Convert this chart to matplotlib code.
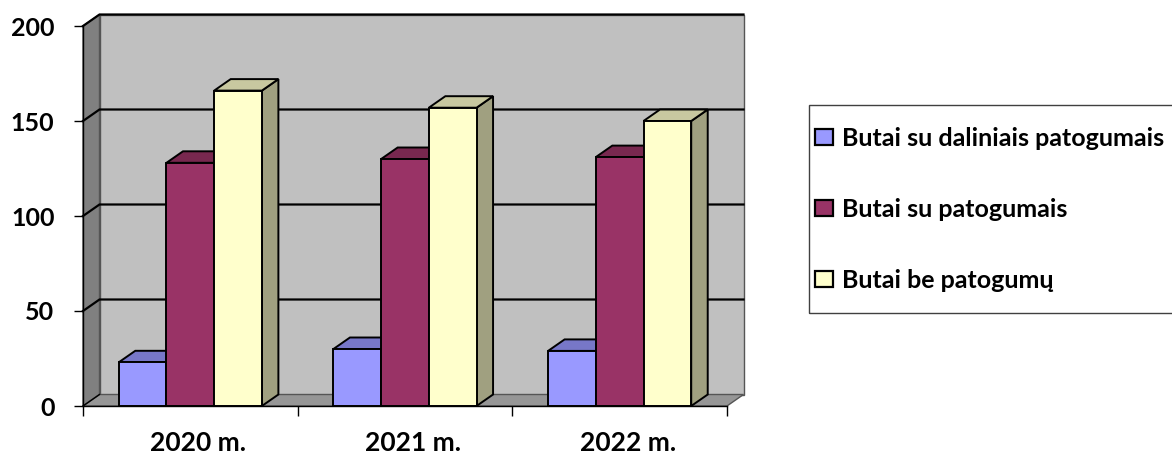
import matplotlib
matplotlib.use("Agg")
import matplotlib.pyplot as plt
from matplotlib.patches import Polygon, Rectangle, Patch
from matplotlib.transforms import ScaledTranslation

# ---- data ----
categories = ["2020 m.", "2021 m.", "2022 m."]
series_names = ["Butai su daliniais patogumais", "Butai su patogumais", "Butai be patogumų"]
s_daliniais = [23, 30, 29]
s_patogumais = [128, 130, 131]
s_be = [166, 157, 150]
y_ticks = [0, 50, 100, 150, 200]

series = [s_daliniais, s_patogumais, s_be]
front_cols = ["#9999FF", "#993366", "#FFFFCC"]
top_cols = ["#7777C8", "#78284F", "#C8C8A0"]
side_cols = ["#6B6BB3", "#6B2447", "#A0A080"]

W, H, DPI = 1172, 453, 100
fig = plt.figure(figsize=(W / DPI, H / DPI), dpi=DPI)
# front plane: x 83..727 px, y 406..26 px (from top)
axl, axr, axt, axb = 83, 727, 26, 406
ax = fig.add_axes([axl / W, 1 - axb / H, (axr - axl) / W, (axb - axt) / H])
ncat = len(categories)
ymax = 200
ax.set_xlim(0, ncat)
ax.set_ylim(0, ymax)
ax.set_facecolor("none")

# depth offset (px) converted into data units
dpx, dpy = 16.5, 11.5
DX = dpx * ncat / (axr - axl)
DY = dpy * ymax / (axb - axt)

def poly(pts, fc, ec="black", lw=1.0, z=1):
    p = Polygon(pts, closed=True, facecolor=fc, edgecolor=ec, linewidth=lw,
                zorder=z, clip_on=False, joinstyle="miter")
    ax.add_patch(p)

# walls and floor
poly([(DX, DY), (ncat + DX, DY), (ncat + DX, ymax + DY), (DX, ymax + DY)], "#C0C0C0", ec="#555555", lw=1.0, z=0.5)
poly([(0, 0), (DX, DY), (DX, ymax + DY), (0, ymax)], "#808080", ec="#555555", lw=1.0, z=0.5)
poly([(0, 0), (ncat, 0), (ncat + DX, DY), (DX, DY)], "#969696", ec="#555555", lw=1.0, z=0.6)

# gridlines on back and side wall
for v in y_ticks[1:]:
    ax.plot([0, DX, ncat + DX], [v, v + DY, v + DY], color="black", lw=1.6,
            zorder=0.8, clip_on=False, solid_joinstyle="miter")
ax.plot([0, DX], [0, DY], color="black", lw=1.0, zorder=0.8, clip_on=False)

# bars
bw = 1 / 4.5
for i in range(ncat):
    for j, s in enumerate(series):
        v = s[i]
        x0 = i + 0.75 * bw + j * bw
        x1 = x0 + bw
        poly([(x1, 0), (x1 + DX, DY), (x1 + DX, v + DY), (x1, v)], side_cols[j], lw=1.4, z=2)
        poly([(x0, v), (x1, v), (x1 + DX, v + DY), (x0 + DX, v + DY)], top_cols[j], lw=1.4, z=2)
        poly([(x0, 0), (x1, 0), (x1, v), (x0, v)], front_cols[j], lw=1.4, z=2)

# axes lines
for sp in ["top", "right"]:
    ax.spines[sp].set_visible(False)
for sp in ["left", "bottom"]:
    ax.spines[sp].set_color("black")
    ax.spines[sp].set_linewidth(1.0)
    ax.spines[sp].set_zorder(3)

font = "Lato"
ax.set_yticks(y_ticks)
ax.set_yticklabels([str(t) for t in y_ticks], fontfamily=font, fontweight="bold", fontsize=18)
ax.tick_params(axis="y", length=6.5, width=1.0, pad=14, direction="out")

ax.set_xticks(range(ncat + 1))
ax.set_xticklabels([])
ax.tick_params(axis="x", which="major", length=7, width=1.0, direction="out")
ax.set_xticks([i + 0.5 for i in range(ncat)], minor=True)
ax.set_xticklabels(categories, minor=True, fontfamily=font, fontweight="bold", fontsize=19)
ax.tick_params(axis="x", which="minor", length=0, pad=18)
for lab in ax.get_xticklabels(minor=True):
    lab.set_transform(lab.get_transform() + ScaledTranslation(8 / DPI, 0, fig.dpi_scale_trans))

# legend
handles = [Patch(facecolor=c, edgecolor="black", linewidth=1.6) for c in front_cols]
leg = fig.legend(handles, series_names, loc="upper left",
                 bbox_to_anchor=(815 / W, 1 - 127 / H), bbox_transform=fig.transFigure,
                 frameon=False, borderpad=0, borderaxespad=0,
                 prop={"family": font, "weight": "bold", "size": 18},
                 handlelength=0.72, handleheight=0.6, handletextpad=0.35,
                 labelspacing=1.92)
fig.patches.append(Rectangle((809 / W, 1 - 313 / H), 400 / W, 208 / H,
                             transform=fig.transFigure, facecolor="none",
                             edgecolor="#404040", linewidth=1.0))

fig.savefig("out.png", dpi=DPI, facecolor="white")
